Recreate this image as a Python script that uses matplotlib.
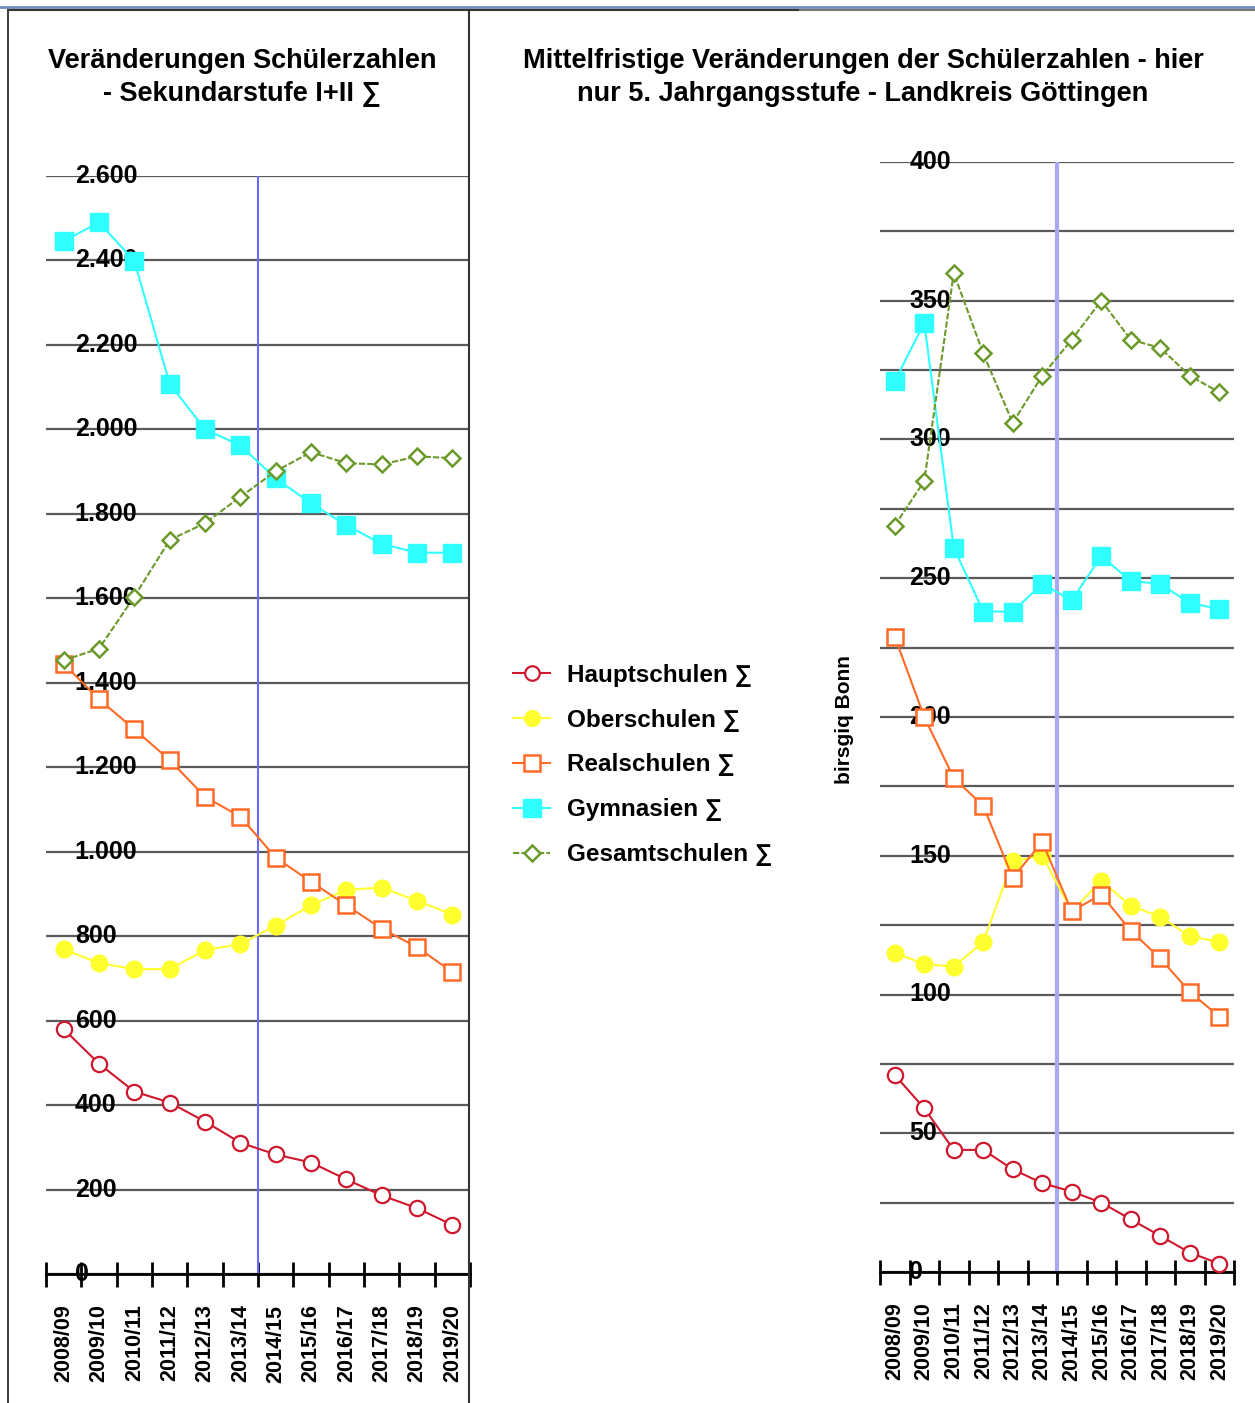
import matplotlib
matplotlib.use("Agg")
import matplotlib.pyplot as plt
from matplotlib.lines import Line2D
from matplotlib.transforms import blended_transform_factory
import numpy as np

plt.rcParams["font.family"] = ["Liberation Sans", "DejaVu Sans"]
plt.rcParams["font.weight"] = "bold"

W, H = 1255, 1403

years = ["2008/09", "2009/10", "2010/11", "2011/12", "2012/13", "2013/14",
         "2014/15", "2015/16", "2016/17", "2017/18", "2018/19", "2019/20"]

series_names = ["Hauptschulen ∑", "Oberschulen ∑", "Realschulen ∑",
                "Gymnasien ∑", "Gesamtschulen ∑"]

# Sekundarstufe I+II
sek_haupt = [580, 498, 432, 406, 361, 311, 283, 264, 224, 186, 156, 116]
sek_ober = [769, 736, 722, 722, 767, 781, 825, 873, 910, 915, 884, 851]
sek_real = [1445, 1361, 1290, 1217, 1130, 1083, 986, 929, 873, 818, 774, 715]
sek_gym = [2446, 2490, 2399, 2108, 2000, 1962, 1884, 1825, 1773, 1729, 1708, 1708]
sek_gesamt = [1453, 1481, 1604, 1738, 1778, 1840, 1901, 1946, 1920, 1917, 1936, 1932]

# nur 5. Jahrgangsstufe
j5_haupt = [71, 59, 44, 44, 37, 32, 29, 25, 19, 13, 7, 3]
j5_ober = [115, 111, 110, 119, 148, 150, 130, 141, 132, 128, 121, 119]
j5_real = [229, 200, 178, 168, 142, 155, 130, 136, 123, 113, 101, 92]
j5_gym = [321, 342, 261, 238, 238, 248, 242, 258, 249, 248, 241, 239]
j5_gesamt = [269, 285, 360, 331, 306, 323, 336, 350, 336, 333, 323, 317]

styles = [
    dict(color="#d0182c", marker="o", mfc="white", mec="#d0182c", ms=11, mew=1.6, ls="-"),
    dict(color="#ffff30", marker="o", mfc="#ffff30", mec="#ffff30", ms=12, mew=1, ls="-"),
    dict(color="#ff6a26", marker="s", mfc="white", mec="#ff6a26", ms=12, mew=1.8, ls="-"),
    dict(color="#30ffff", marker="s", mfc="#30ffff", mec="#30ffff", ms=13, mew=1, ls="-"),
    dict(color="#6b9a2a", marker="D", mfc="white", mec="#6b9a2a", ms=8.5, mew=1.8, ls=(0, (3, 1))),
]


def box(l, r, t, b):
    return [l / W, 1 - b / H, (r - l) / W, (b - t) / H]


def draw_panel(ax, data, ymax, grid_step, label_step, label_x, vcolor, vlw):
    x = np.arange(len(years))
    ax.set_xlim(-0.5, len(years) - 0.5)
    ax.set_ylim(0, ymax)
    for side in ["left", "right", "top"]:
        ax.spines[side].set_visible(False)
    ax.spines["bottom"].set_linewidth(2)
    ax.spines["bottom"].set_color("black")

    ax.set_yticks(np.arange(0, ymax + 1, grid_step))
    ax.tick_params(axis="y", length=0, labelleft=False)
    ax.yaxis.grid(True, color="#5a5a5a", lw=1.6, zorder=0.5)
    ax.set_axisbelow(True)

    ax.set_xticks(x)
    ax.set_xticklabels(years, rotation=90, fontsize=15.5, fontweight="bold", va="top")
    ax.tick_params(axis="x", which="major", length=0, pad=22)
    ax.set_xticks(np.arange(-0.5, len(years)), minor=True)
    ax.tick_params(axis="x", which="minor", direction="inout", length=18, width=2)

    trans = blended_transform_factory(ax.transAxes, ax.transData)
    for v in np.arange(0, ymax + 1, label_step):
        ax.text(label_x, v, f"{int(v):,}".replace(",", "."), transform=trans,
                ha="left", va="center", fontsize=18, fontweight="bold", zorder=1.5)

    ax.axvline(5.5, color=vcolor, lw=vlw, zorder=1)

    handles = []
    for vals, st, name in zip(data, styles, series_names):
        h, = ax.plot(x, vals, color=st["color"], marker=st["marker"], mfc=st["mfc"],
                     mec=st["mec"], ms=st["ms"], mew=st["mew"], ls=st["ls"], lw=1.5,
                     label=name, zorder=3, clip_on=False)
        handles.append(h)
    return handles


fig = plt.figure(figsize=(W / 100, H / 100), dpi=100)

ax1 = fig.add_axes(box(46, 470, 176, 1274))
draw_panel(ax1, [sek_haupt, sek_ober, sek_real, sek_gym, sek_gesamt],
           2600, 200, 200, 0.068, "#6b6bff", 1.5)

ax2 = fig.add_axes(box(880, 1234, 162, 1272))
handles = draw_panel(ax2, [j5_haupt, j5_ober, j5_real, j5_gym, j5_gesamt],
                     400, 25, 50, 0.083, "#a8a8f4", 3)

# titles
title_kw = dict(ha="center", va="center", fontsize=19.5, fontweight="bold")
fig.text(242 / W, 1 - 61 / H, "Veränderungen Schülerzahlen", **title_kw)
fig.text(242 / W, 1 - 94 / H, "- Sekundarstufe I+II ∑", **title_kw)
fig.text(863 / W, 1 - 61 / H, "Mittelfristige Veränderungen der Schülerzahlen - hier", **title_kw)
fig.text(863 / W, 1 - 94 / H, "nur 5. Jahrgangsstufe - Landkreis Göttingen", **title_kw)

fig.text(845 / W, 1 - 720 / H, "birsgiq Bonn", rotation=90, ha="center", va="center",
         fontsize=15, fontweight="bold")

fig.legend(handles=handles, loc="upper left", bbox_to_anchor=(503 / W, 1 - 654 / H),
           frameon=False, fontsize=17.5, handlelength=1.55, handletextpad=0.7,
           labelspacing=0.9, markerscale=0.95, borderaxespad=0)

# page frame lines
fig.add_artist(Line2D([0, 1], [1 - 7 / H, 1 - 7 / H], color="#6d8fb8", lw=2,
                      transform=fig.transFigure))
fig.add_artist(Line2D([8 / W, 800 / W], [1 - 10 / H, 1 - 10 / H], color="#333333", lw=1.5,
                      transform=fig.transFigure))
fig.add_artist(Line2D([800 / W, 1], [1 - 10 / H, 1 - 10 / H], color="#777777", lw=1.5,
                      transform=fig.transFigure))
fig.add_artist(Line2D([8 / W, 8 / W], [0, 1 - 10 / H], color="#444444", lw=1.5,
                      transform=fig.transFigure))
fig.add_artist(Line2D([469 / W, 469 / W], [0, 1 - 10 / H], color="#333333", lw=1.5,
                      transform=fig.transFigure))

fig.savefig("out.png", dpi=100)
